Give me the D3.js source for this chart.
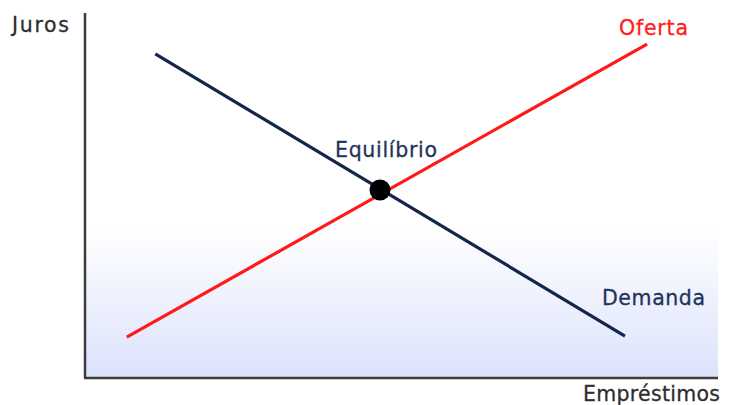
<!DOCTYPE html>
<html><head><meta charset="utf-8">
<script src="https://cdn.jsdelivr.net/npm/d3@7"></script>
<style>html,body{margin:0;padding:0;background:#fff;}svg{display:block;}</style>
</head><body>
<svg id="c" width="730" height="405"></svg>
<script>
// Data (abstract units: loans on x, interest on y)
const supplyX = [0.66, 8.88];
const supplyY = [1.12, 9.15];
const demandX = [1.11, 8.53];
const demandY = [8.88, 1.15];
const equilibrium = [4.66, 5.15];
const labels = {y: "Juros", x: "Empréstimos", supply: "Oferta", demand: "Demanda", eq: "Equilíbrio"};

const svg = d3.select("#c");
const x = d3.scaleLinear().domain([0, 10]).range([85, 718]);
const y = d3.scaleLinear().domain([0, 10]).range([378, 13]);

const defs = svg.append("defs");
const g = defs.append("linearGradient").attr("id","bg").attr("x1",0).attr("y1",0).attr("x2",0).attr("y2",1);
g.append("stop").attr("offset","0%").attr("stop-color","#ffffff");
g.append("stop").attr("offset","100%").attr("stop-color","#dbe2fb");

svg.append("rect").attr("x", x(0)).attr("y", 230).attr("width", x(10) - x(0)).attr("height", y(0) - 230)
  .attr("fill", "url(#bg)");

const line = d3.line().x(d => x(d[0])).y(d => y(d[1]));
svg.append("path").datum(d3.zip(supplyX, supplyY)).attr("d", line)
  .attr("stroke", "#ff1a1a").attr("stroke-width", 3.2).attr("fill", "none");
svg.append("path").datum(d3.zip(demandX, demandY)).attr("d", line)
  .attr("stroke", "#14254a").attr("stroke-width", 3.2).attr("fill", "none");

svg.append("circle").attr("cx", x(equilibrium[0])).attr("cy", y(equilibrium[1])).attr("r", 10.5).attr("fill", "#000");

// axes
svg.append("line").attr("x1", x(0)).attr("x2", x(0)).attr("y1", y(10)).attr("y2", y(0))
  .attr("stroke", "#3c3c3c").attr("stroke-width", 2.5);
svg.append("line").attr("x1", x(0) - 1).attr("x2", x(10)).attr("y1", y(0)).attr("y2", y(0))
  .attr("stroke", "#3c3c3c").attr("stroke-width", 2.5);

const font = "'DejaVu Sans', Verdana, sans-serif";
function txt(s, px, py, color, w) {
  return svg.append("text").attr("x", px).attr("y", py).attr("fill", color)
    .attr("stroke", color).attr("stroke-width", 0.3)
    .attr("font-family", font).attr("font-size", 20.5)
    .attr("textLength", w).attr("lengthAdjust", "spacing").text(s);
}
txt(labels.y, 12, 32, "#2e2e2e", 57);
txt(labels.supply, 619, 35, "#ff2020", 69);
txt(labels.eq, 335, 157, "#23345a", 102);
txt(labels.demand, 602, 305, "#23345a", 103);
txt(labels.x, 583, 401, "#2e2e2e", 137);
</script>
</body></html>
